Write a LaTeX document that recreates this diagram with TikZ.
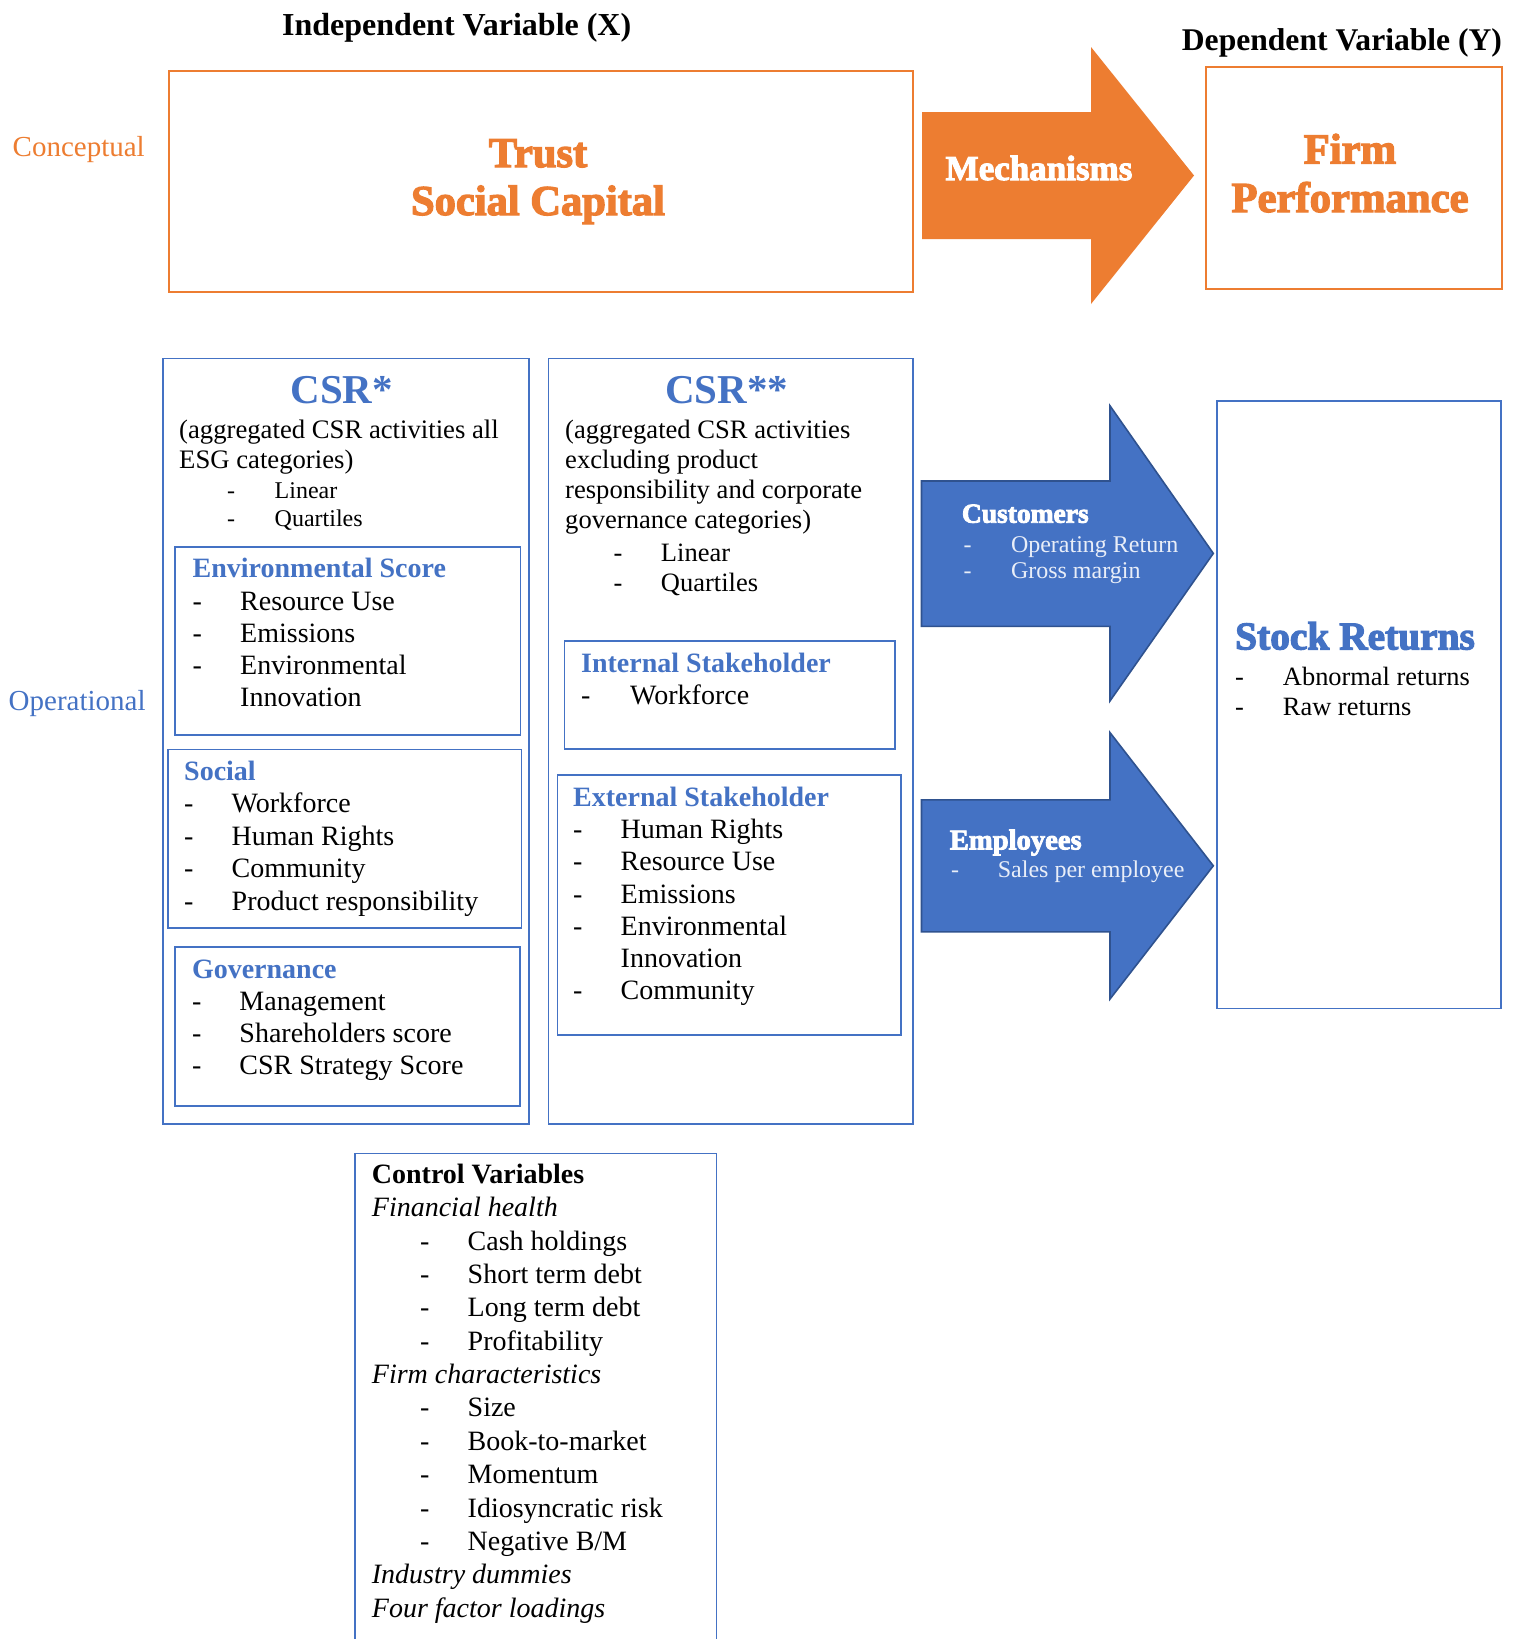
\documentclass[tikz,border=0pt]{standalone}
\usepackage{fontspec}
\setmainfont{Liberation Serif}
\newfontfamily\heavyfont[FakeBold=3]{Liberation Serif Bold}
\definecolor{org}{HTML}{ED7D31}
\definecolor{blu}{HTML}{4472C4}
\definecolor{dblu}{HTML}{2F528F}
\definecolor{lite}{HTML}{E9EEF8}
\newcommand\dsh{\makebox[47.5pt][l]{-}}
\newcommand\ndsh{\hspace*{47.5pt}}
\newcommand\hdr[1]{{\bfseries\color{blu}#1}}
\tikzset{
  obox/.style={draw=org, line width=2pt, inner sep=0pt, anchor=north west},
  bbox/.style={draw=blu, line width=1.8pt, inner sep=0pt, anchor=north west},
  txt/.style={anchor=base west, inner sep=0pt, font=\fontsize{28}{32}\selectfont},
  sz/.style={font=\fontsize{#1}{#1}\selectfont},
  hvy/.style={anchor=base, inner sep=0pt, font=\heavyfont\fontsize{#1}{#1}\selectfont},
  hvyw/.style={anchor=base west, inner sep=0pt, font=\heavyfont\fontsize{#1}{#1}\selectfont},
  arrowshape/.style={fill=blu, draw=dblu, line width=1.6pt, line join=miter}
}
\begin{document}
\begin{tikzpicture}[x=1pt,y=-1pt]
\useasboundingbox (0,0) rectangle (1513,1639);
\fill[white] (0,0) rectangle (1513,1639);

% ---------- top row ----------
\node[anchor=base west, inner sep=0pt, font=\bfseries\fontsize{32}{36}\selectfont] (indep) at (282,35) {Independent Variable (X)};
\node[anchor=base west, inner sep=0pt, font=\bfseries\fontsize{31.6}{36}\selectfont] (dep) at (1181.7,50.5) {Dependent Variable (Y)};
\node[anchor=base west, inner sep=0pt, font=\fontsize{29}{33}\selectfont, text=org] (concept) at (12.5,156.7) {Conceptual};
\node[anchor=base west, inner sep=0pt, font=\fontsize{29}{33}\selectfont, text=blu] (oper) at (8.5,710) {Operational};

\node[obox, minimum width=744.5, minimum height=221] (trust) at (167.5,70) {};
\node[obox, minimum width=296, minimum height=222] (firm) at (1204.5,66) {};

\fill[org] (922,112) -- (1091,112) -- (1091,47) -- (1194,175.5) -- (1091,304) -- (1091,239) -- (922,239) -- cycle;

\node[hvy=42.5, text=org] (trust1) at (538,167) {Trust};
\node[hvy=42.5, text=org] (trust2) at (538,215) {Social Capital};
\node[hvy=35, text=white] (mech) at (1039,180) {Mechanisms};
\node[hvy=42.7, text=org] (firm1) at (1350,163.5) {Firm};
\node[hvy=42.7, text=org] (firm2) at (1350,212) {Performance};

% ---------- CSR* column ----------
\node[bbox, minimum width=366, minimum height=765.5] (csrA) at (162,357.5) {};
\node[anchor=base, inner sep=0pt, font=\bfseries\fontsize{41}{46}\selectfont, text=blu] (csrAt) at (341.7,403) {CSR*};
\node[txt, sz=26.7] (csrA1) at (179,438) {(aggregated CSR activities all};
\node[txt, sz=26.7] (csrA2) at (179,468.3) {ESG categories)};
\node[txt, sz=24] (csrA3) at (179,498.3) {\hspace*{48pt}\dsh Linear};
\node[txt, sz=24] (csrA4) at (179,526) {\hspace*{48pt}\dsh Quartiles};

\node[bbox, minimum width=345.2, minimum height=188] (env) at (174.3,546) {};
\foreach \tx [count=\i from 0] in {{\hdr{Environmental Score}}, {\dsh Resource Use}, {\dsh Emissions}, {\dsh Environmental}, {\ndsh Innovation}}
  \node[txt] (env\i) at (192.5,{577.7+32.3*\i}) {\tx};

\node[bbox, minimum width=353.3, minimum height=178.5] (soc) at (167.3,748.5) {};
\foreach \tx [count=\i from 0] in {{\hdr{Social}}, {\dsh Workforce}, {\dsh Human Rights}, {\dsh Community}, {\dsh Product responsibility}}
  \node[txt] (soc\i) at (184,{780+32.5*\i}) {\tx};

\node[bbox, minimum width=345.1, minimum height=159] (gov) at (173.9,946) {};
\foreach \tx [count=\i from 0] in {{\hdr{Governance}}, {\dsh Management}, {\dsh Shareholders score}, {\dsh CSR Strategy Score}}
  \node[txt] (gov\i) at (191.8,{978.3+32.2*\i}) {\tx};

% ---------- CSR** column ----------
\node[bbox, minimum width=364.5, minimum height=765.5] (csrB) at (547.5,357.5) {};
\node[anchor=base, inner sep=0pt, font=\bfseries\fontsize{41}{46}\selectfont, text=blu] (csrBt) at (726.7,403) {CSR**};
\foreach \tx [count=\i from 0] in {{(aggregated CSR activities}, {excluding product}, {responsibility and corporate}, {governance categories)}}
  \node[txt, sz=26.6] (csrB\i) at (565,{438.3+30.2*\i}) {\tx};
\node[txt, sz=26.5] (csrB4) at (565,561) {\hspace*{48.3pt}\dsh Linear};
\node[txt, sz=26.5] (csrB5) at (565,591.7) {\hspace*{48.3pt}\dsh Quartiles};

\node[bbox, minimum width=330.5, minimum height=108] (intl) at (563.5,640) {};
\node[txt] (intl0) at (581,672.3) {\hdr{Internal Stakeholder}};
\node[txt] (intl1) at (581,704) {\makebox[49pt][l]{-}Workforce};

\node[bbox, minimum width=343.7, minimum height=259.7] (extl) at (556.5,774.3) {};
\foreach \tx [count=\i from 0] in {{\hdr{External Stakeholder}}, {\dsh Human Rights}, {\dsh Resource Use}, {\dsh Emissions}, {\dsh Environmental}, {\ndsh Innovation}, {\dsh Community}}
  \node[txt] (extl\i) at (573,{806+32.33*\i}) {\tx};

% ---------- mechanism arrows ----------
\path[arrowshape] (921.5,481) -- (1110,481) -- (1110,405.8) -- (1213.3,553.4) -- (1110,700.9) -- (1110,626.4) -- (921.5,626.4) -- cycle;
\path[arrowshape] (921.5,799.9) -- (1110,799.9) -- (1110,732.6) -- (1213.3,865.8) -- (1110,999) -- (1110,931.8) -- (921.5,931.8) -- cycle;

\node[hvyw=27.5, text=white] (cust) at (961.7,522.7) {Customers};
\node[txt, sz=24, text=lite] (cust1) at (963.3,552) {\dsh Operating Return};
\node[txt, sz=24, text=lite] (cust2) at (963.3,578.8) {\dsh Gross margin};
\node[hvyw=28.6, text=white] (empl) at (949.6,849.4) {Employees};
\node[txt, sz=24, text=lite] (empl1) at (950.8,877.9) {\makebox[46.9pt][l]{-}Sales per employee};

% ---------- stock returns ----------
\node[bbox, line width=1.5pt, minimum width=284, minimum height=607.5] (stock) at (1216.4,400) {};
\node[hvyw=39.4, text=blu] (stock0) at (1235,649.4) {Stock Returns};
\node[txt, sz=26.4] (stock1) at (1235,685) {\makebox[47.8pt][l]{-}Abnormal returns};
\node[txt, sz=26.4] (stock2) at (1235,715.5) {\makebox[47.8pt][l]{-}Raw returns};

% ---------- control variables ----------
\begin{scope}
\clip (0,0) rectangle (1513,1639);
\node[bbox, minimum width=361.2, minimum height=520] (ctrl) at (354.3,1152.5) {};
\end{scope}
\foreach \tx [count=\i from 0] in {{\bfseries Control Variables}, {\itshape Financial health},
  {\hspace*{48.3pt}\dsh Cash holdings}, {\hspace*{48.3pt}\dsh Short term debt}, {\hspace*{48.3pt}\dsh Long term debt}, {\hspace*{48.3pt}\dsh Profitability},
  {\itshape Firm characteristics},
  {\hspace*{48.3pt}\dsh Size}, {\hspace*{48.3pt}\dsh Book-to-market}, {\hspace*{48.3pt}\dsh Momentum}, {\hspace*{48.3pt}\dsh Idiosyncratic risk}, {\hspace*{48.3pt}\dsh Negative B/M},
  {\itshape Industry dummies}, {\itshape Four factor loadings}}
  \node[txt] (ctl\i) at (371.7,{1183.3+33.38*\i}) {\tx};
\end{tikzpicture}
\end{document}
